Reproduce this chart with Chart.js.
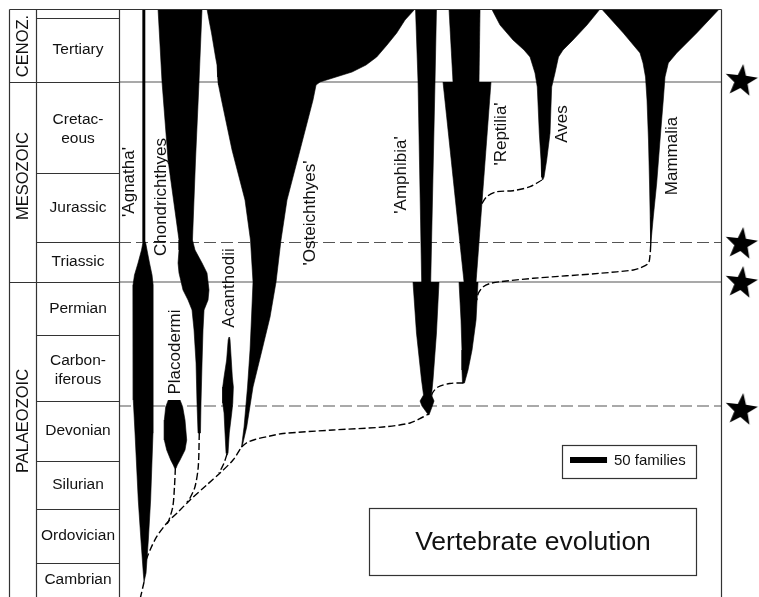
<!DOCTYPE html>
<html>
<head>
<meta charset="utf-8">
<script src="https://cdn.jsdelivr.net/npm/chart.js@4/dist/chart.umd.min.js"></script>
<style>
  html, body { margin: 0; padding: 0; background: #fff; }
  canvas { display: block; }
</style>
</head>
<body>
<canvas id="chartEvolution" width="759" height="597"></canvas>
<script>
// y: position down the stratigraphic column (0 = today), x: number of families

var periodNames = ['', 'Tertiary', 'Cretac-\neous', 'Jurassic', 'Triassic', 'Permian', 'Carbon-\niferous', 'Devonian', 'Silurian', 'Ordovician', 'Cambrian'];
var periodBase = [9, 73, 164, 233, 273, 326, 392, 452, 500, 554, 588];
var eraNames = ['CENOZ.', 'MESOZOIC', 'PALAEOZOIC'];
var eraBase = [73, 273, 588];
var eraLabelAt = [37, 167, 412];

var extinctionSolid = [73, 273];
var extinctionDashed = [233.5, 397];
var starLevels = [71, 234, 273, 400];
var starColumn = 840;
var plotRight = 813;

// spindles: [level, left edge, right edge]
var agnatha = [[0, 32.4, 35.1], [233, 32.4, 35.8], [241, 30.4, 37.8], [254, 25.7, 41.2], [266, 20.9, 44.6], [276, 18.9, 45.9], [391, 19.3, 46.3], [424, 21.6, 45.9], [491, 26, 42.7], [531, 29.6, 39.6], [564, 32.8, 36.5], [573, 33.8, 34.4]];
var chondrichthyes = [[0, 52.7, 112.1], [73, 58.1, 108], [151, 66.2, 103.3], [231, 81, 99.2], [241, 81, 102.6], [254, 79.7, 112.1], [264, 81, 118.8], [281, 86.4, 121.5], [291, 93.2, 120.2], [301, 98.6, 114.8], [321, 101.3, 113.4], [354, 104, 112.1], [394, 105.3, 110.7], [424, 106.7, 110]];
var placodermi = [[391, 66.6, 82.4], [397.7, 63.1, 85.9], [411, 61.2, 89.1], [431, 61.2, 91.4], [441, 64.4, 89.1], [451, 69.8, 82.4], [456, 73.3, 78.7], [459.3, 75.2, 77]];
var acanthodii = [[328, 148.5, 149.2], [331, 147.4, 149.9], [351, 145.3, 151.6], [368, 141.8, 153], [378, 140, 154.4], [394, 140, 153.6], [404, 141.8, 152.2], [424, 143.1, 148.9], [444, 144.5, 147.2], [446, 145.8, 145.8]];
var osteichthyes = [[0, 118.8, 399.6], [11, 121.5, 386.1], [24, 124.9, 374.9], [36, 127.6, 361.8], [48, 130.3, 347.9], [56, 132.3, 333.5], [63, 133, 314.6], [68, 133.4, 293], [73, 133.7, 271.4], [76, 134.3, 266], [91, 138.4, 261.9], [141, 152.6, 244.4], [191, 170.1, 226.8], [231, 177.5, 218.7], [273, 180.9, 212], [308, 178.9, 203.9], [341, 176.9, 193.1], [378, 173.5, 180.9], [418, 168.8, 172.4], [438, 165.4, 166.1]];
var amphibiaUpper = [[0, 400.3, 428.6], [73, 403.7, 426.6], [273, 408.6, 420.8]];
var amphibiaLower = [[273, 396.9, 432], [324, 401.6, 428.6], [371, 408.4, 423.9], [386, 411.1, 421.9], [392, 406.4, 425.3], [397, 409, 423], [406, 417.8, 418.5]];
var reptiliaUpper = [[0, 445.5, 487.4], [73, 450.9, 486]];
var reptiliaMiddle = [[73, 437.4, 502.2], [273, 465.8, 482]];
var reptiliaLower = [[273, 459, 484.7], [311, 461.7, 482], [341, 463, 476.6], [361, 463, 471.2], [374, 463.7, 466.4]];
var aves = [[0, 503.1, 649.4], [16, 514.4, 631.8], [31, 531.9, 612.9], [41, 546.8, 599.4], [48, 554.9, 593.3], [64, 561.6, 588.6], [78, 564.7, 584.1], [124, 567.4, 581.9], [151, 569.7, 577.4], [168, 570.6, 573.8], [171, 572, 572]];
var mammalia = [[0, 651.6, 810.4], [24, 680.8, 779.9], [44, 703.4, 752.9], [54, 707.4, 741.6], [68, 710.8, 737.1], [91, 712.8, 734.8], [131, 714.8, 730.4], [174, 716.2, 725.9], [208, 717.1, 721.3], [236, 717.8, 717.8]];

// ancestry links: [level, families]
var agnathaRoot = [[573, 33.8], [590, 28.5]];
var trunk = [[551, 36.5], [541, 41.9], [527.7, 50.9], [514.3, 64.4], [502.7, 80.1], [491, 95.9], [476, 118.4], [464, 136.4], [451, 153.9], [438, 165.4]];
var placodermiStem = [[459, 76.1], [477.7, 74.9], [497.7, 72.6], [512.7, 66.6], [516, 63.5]];
var chondStem = [[424, 108.4], [457.7, 107], [477.7, 102.6], [489, 95.9], [493, 91.8]];
var acanthStem = [[445, 145.8], [454, 141.8], [459, 138.6], [464, 135]];
var osteToAmphibia = [[438, 165.4], [433.5, 172.8], [430.5, 183.6], [427, 203.9], [424.5, 221.4], [421, 288.9], [418, 356.4], [414, 392.9], [408, 410.4], [405, 418.2]];
var reptiliaToAmphibia = [[374, 465], [374.5, 446.4], [378, 430.7], [384, 423.2], [390, 421.2]];
var avesToReptilia = [[171, 571], [177.7, 554.9], [181.7, 531.9], [182.7, 510.3], [187.7, 496.5], [197.7, 487.4]];
var mammaliaToReptilia = [[236, 717.8], [246, 716.9], [254.3, 714.6], [259, 703.4], [261, 694.4], [264.3, 649.4], [269.3, 559.3], [272.7, 514.4], [274.5, 500.9], [277.7, 491.8], [284, 485.3], [291, 482.9]];

var taxonNames = ["'Agnatha'", 'Chondrichthyes', 'Placodermi', 'Acanthodii', "'Osteichthyes'", "'Amphibia'", "'Reptilia'", 'Aves', 'Mammalia'];
var taxonLabelX = [13.5, 56.7, 75.6, 148.5, 257.9, 380.7, 515.7, 598, 746.6];
var taxonLabelY = [173, 188, 343, 279, 204, 166, 125, 115, 147];

var scaleBarFamilies = 50;

var FONT = "'Liberation Sans', Arial, Helvetica, sans-serif";

function outline(rows) {
    var pts = [];
    rows.forEach(function(r) { pts.push({x: r[1], y: r[0]}); });
    for (var i = rows.length - 1; i >= 0; i--) {
        pts.push({x: rows[i][2], y: rows[i][0]});
    }
    return pts;
}

function path(pairs) {
    return pairs.map(function(p) { return {x: p[1], y: p[0]}; });
}

// filled five point star used as point style
var starImg = document.createElement('canvas');
starImg.width = 38;
starImg.height = 38;
var sc = starImg.getContext('2d');
sc.fillStyle = '#000';
sc.beginPath();
for (var i = 0; i < 10; i++) {
    var r = i % 2 ? 7 : 17;
    var a = -Math.PI / 2 + 0.12 + i * Math.PI / 5;
    sc.lineTo(19 + r * Math.cos(a), 20 + r * Math.sin(a));
}
sc.closePath();
sc.fill();

var datasets = [];

extinctionSolid.forEach(function(level) {
    datasets.push({
        data: [{x: 0, y: level}, {x: plotRight, y: level}],
        borderColor: '#555',
        borderWidth: 1.2,
        pointRadius: 0,
        fill: false,
        order: 4
    });
});
extinctionDashed.forEach(function(level) {
    datasets.push({
        data: [{x: 0, y: level}, {x: plotRight, y: level}],
        borderColor: '#555',
        borderWidth: 1.2,
        borderDash: [12, 5],
        pointRadius: 0,
        fill: false,
        order: 4
    });
});

[agnatha, chondrichthyes, placodermi, acanthodii, osteichthyes, amphibiaUpper, amphibiaLower,
 reptiliaUpper, reptiliaMiddle, reptiliaLower, aves, mammalia].forEach(function(rows) {
    datasets.push({
        data: outline(rows),
        fill: 'shape',
        backgroundColor: '#000',
        borderColor: '#000',
        borderWidth: 0.6,
        pointRadius: 0,
        tension: 0,
        order: 3
    });
});

[agnathaRoot, trunk, placodermiStem, chondStem, acanthStem, osteToAmphibia,
 reptiliaToAmphibia, avesToReptilia, mammaliaToReptilia].forEach(function(pairs) {
    datasets.push({
        data: path(pairs),
        fill: false,
        borderColor: '#000',
        borderWidth: 1.4,
        borderDash: [7, 3],
        pointRadius: 0,
        tension: 0.3,
        order: 2
    });
});

datasets.push({
    data: starLevels.map(function(l) { return {x: starColumn, y: l}; }),
    showLine: false,
    pointStyle: starImg,
    pointRadius: 17,
    clip: false,
    order: 1
});

var columnPlugin = {
    id: 'column',
    afterDatasetsDraw: function(chart) {
        var ctx = chart.ctx;
        var area = chart.chartArea;
        var xs = chart.scales.x;
        var ys = chart.scales.y;
        var eraLeft = 9.5, eraRight = 36.5, colRight = area.left + 0.5;
        var frameRight = Math.round(xs.getPixelForValue(plotRight)) + 0.5;
        var top = area.top + 0.5, bottom = area.bottom;

        ctx.save();
        ctx.strokeStyle = '#333';
        ctx.lineWidth = 1.2;
        ctx.beginPath();
        ctx.moveTo(eraLeft, top); ctx.lineTo(frameRight, top);
        [eraLeft, eraRight, colRight, frameRight].forEach(function(x) {
            ctx.moveTo(x, top); ctx.lineTo(x, bottom);
        });
        periodBase.forEach(function(b) {
            var y = Math.round(ys.getPixelForValue(b)) + 0.5;
            ctx.moveTo(eraRight, y); ctx.lineTo(colRight, y);
        });
        eraBase.forEach(function(b) {
            var y = Math.round(ys.getPixelForValue(b)) + 0.5;
            ctx.moveTo(eraLeft, y); ctx.lineTo(eraRight, y);
        });
        ctx.stroke();

        ctx.fillStyle = '#111';
        ctx.textAlign = 'center';
        ctx.textBaseline = 'middle';
        ctx.font = '15.5px ' + FONT;
        var prev = 0;
        periodBase.forEach(function(b, i) {
            var name = periodNames[i];
            var mid = (ys.getPixelForValue(prev) + ys.getPixelForValue(b)) / 2;
            prev = b;
            if (!name) return;
            var lines = name.split('\n');
            var shift = lines.length > 1 ? 2 : 0;
            lines.forEach(function(t, k) {
                ctx.fillText(t, (eraRight + colRight) / 2, mid + shift + (k - (lines.length - 1) / 2) * 19);
            });
        });

        ctx.font = '16.5px ' + FONT;
        eraNames.forEach(function(name, i) {
            ctx.save();
            ctx.translate((eraLeft + eraRight) / 2 + 0.5, ys.getPixelForValue(eraLabelAt[i]));
            ctx.rotate(-Math.PI / 2);
            ctx.fillText(name, 0, 0);
            ctx.restore();
        });

        ctx.font = '17px ' + FONT;
        taxonNames.forEach(function(name, i) {
            ctx.save();
            ctx.translate(xs.getPixelForValue(taxonLabelX[i]), ys.getPixelForValue(taxonLabelY[i]));
            ctx.rotate(-Math.PI / 2);
            ctx.fillText(name, 0, 0);
            ctx.restore();
        });

        // scale bar box
        ctx.lineWidth = 1.2;
        ctx.strokeRect(562.5, 445.5, 134, 33);
        var barW = xs.getPixelForValue(scaleBarFamilies) - xs.getPixelForValue(0);
        ctx.fillStyle = '#000';
        ctx.fillRect(570, 457, barW, 6);
        ctx.fillStyle = '#111';
        ctx.textAlign = 'left';
        ctx.font = '15px ' + FONT;
        ctx.fillText(scaleBarFamilies + ' families', 614, 461);

        // title box
        ctx.strokeRect(369.5, 508.5, 327, 67);
        ctx.textAlign = 'center';
        ctx.font = '26.5px ' + FONT;
        ctx.fillText('Vertebrate evolution', 533, 543);
        ctx.restore();
    }
};

var chartEvolution = new Chart(document.getElementById('chartEvolution'), {
    type: 'line',
    data: { datasets: datasets },
    options: {
        responsive: false,
        animation: false,
        events: [],
        layout: { autoPadding: false, padding: { left: 119, top: 9, right: 0, bottom: 0 } },
        scales: {
            x: { type: 'linear', min: 0, max: 864, display: false },
            y: { type: 'linear', min: 0, max: 588, reverse: true, display: false }
        },
        plugins: {
            legend: { display: false },
            tooltip: { enabled: false }
        }
    },
    plugins: [columnPlugin]
});
</script>
</body>
</html>
